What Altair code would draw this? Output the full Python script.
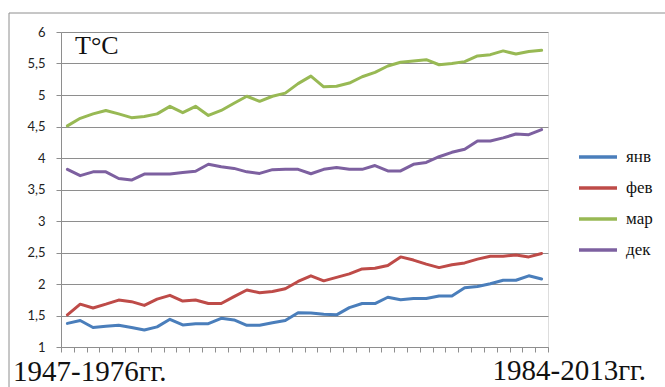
import altair as alt
import pandas as pd

# 30-year moving windows: 1947-1976 ... 1984-2013 (start years)
start_years = list(range(1947, 1985))

jan = [1.375, 1.42, 1.31, 1.33, 1.345, 1.31, 1.27, 1.32, 1.44, 1.35,
       1.37, 1.37, 1.455, 1.43, 1.345, 1.345, 1.385, 1.42, 1.545, 1.54,
       1.52, 1.51, 1.625, 1.69, 1.69, 1.79, 1.75, 1.77, 1.77, 1.81,
       1.81, 1.94, 1.96, 2.005, 2.06, 2.06, 2.13, 2.08]
feb = [1.51, 1.68, 1.62, 1.68, 1.745, 1.72, 1.66, 1.76, 1.82, 1.73,
       1.745, 1.69, 1.69, 1.80, 1.905, 1.86, 1.88, 1.925, 2.04, 2.13,
       2.05, 2.105, 2.16, 2.24, 2.25, 2.295, 2.43, 2.38, 2.315, 2.26,
       2.305, 2.335, 2.395, 2.44, 2.44, 2.46, 2.43, 2.485]
mar = [4.51, 4.63, 4.70, 4.755, 4.70, 4.64, 4.66, 4.70, 4.82, 4.72,
       4.82, 4.675, 4.755, 4.87, 4.98, 4.90, 4.98, 5.03, 5.18, 5.30,
       5.13, 5.14, 5.19, 5.29, 5.36, 5.46, 5.52, 5.54, 5.56, 5.48,
       5.50, 5.53, 5.62, 5.64, 5.70, 5.65, 5.69, 5.71]
dec = [3.82, 3.72, 3.78, 3.78, 3.675, 3.65, 3.745, 3.745, 3.745, 3.77,
       3.79, 3.90, 3.86, 3.835, 3.78, 3.755, 3.815, 3.82, 3.82, 3.75,
       3.82, 3.85, 3.82, 3.82, 3.88, 3.795, 3.795, 3.90, 3.93, 4.02,
       4.09, 4.14, 4.27, 4.27, 4.32, 4.38, 4.37, 4.45]

series_names = ["янв", "фев", "мар", "дек"]
series_colors = ["#4a7ebb", "#be4b48", "#98b954", "#7d60a0"]
y_ticks = [1, 1.5, 2, 2.5, 3, 3.5, 4, 4.5, 5, 5.5, 6]

rows = []
for name, values in zip(series_names, [jan, feb, mar, dec]):
    for yr, v in zip(start_years, values):
        rows.append({"start": yr, "t": v, "month": name})
df = pd.DataFrame(rows)

W, H = 487, 315
GRID = "#8e8e8e"
SERIF = "Liberation Serif"

# category boundaries for the x ticks
x_bounds = [y - 0.5 for y in start_years] + [start_years[-1] + 0.5]

lines = alt.Chart(df).mark_line(strokeWidth=3, strokeCap="round", strokeJoin="round").encode(
    x=alt.X("start:Q",
            scale=alt.Scale(domain=[x_bounds[0], x_bounds[-1]], nice=False, zero=False),
            axis=alt.Axis(values=x_bounds, labels=False, title=None, grid=False,
                          domainColor=GRID, tickColor=GRID, tickSize=5)),
    y=alt.Y("t:Q",
            scale=alt.Scale(domain=[1, 6], nice=False, zero=False),
            axis=alt.Axis(values=y_ticks, title=None, grid=True, gridColor=GRID,
                          domainColor=GRID, tickColor=GRID, tickSize=5,
                          format="~g",
                          labelExpr="replace(datum.label, '.', ',')",
                          labelFont="Lato", labelFontSize=13, labelColor="#222",
                          labelPadding=11)),
    color=alt.Color("month:N",
                    scale=alt.Scale(domain=series_names, range=series_colors),
                    legend=alt.Legend(title=None, orient="none", legendX=516, legendY=104,
                                      symbolType="stroke", symbolSize=1444,
                                      symbolStrokeWidth=3.5, labelFont=SERIF,
                                      labelFontSize=17, labelColor="#111",
                                      labelOffset=7, rowPadding=2)),
)

one = pd.DataFrame({"k": [0]})

frame_left = alt.Chart(one).mark_rule(color=GRID, strokeWidth=1).encode(
    x=alt.value(-52), y=alt.value(-19), y2=alt.value(400))
frame_top = alt.Chart(one).mark_rule(color=GRID, strokeWidth=1).encode(
    x=alt.value(-52), x2=alt.value(700), y=alt.value(-19))

unit = alt.Chart(one).mark_text(font=SERIF, fontSize=26, align="left",
                                baseline="alphabetic", color="#111").encode(
    x=alt.value(14), y=alt.value(22), text=alt.value("T°C"))
left_lbl = alt.Chart(one).mark_text(font=SERIF, fontSize=29, align="left",
                                    baseline="alphabetic", color="#111").encode(
    x=alt.value(-48), y=alt.value(349), text=alt.value("1947-1976гг."))
right_lbl = alt.Chart(one).mark_text(font=SERIF, fontSize=29, align="right",
                                     baseline="alphabetic", color="#111").encode(
    x=alt.value(585), y=alt.value(348), text=alt.value("1984-2013гг."))

chart = alt.layer(frame_left, frame_top, lines, unit, left_lbl, right_lbl).properties(
    width=W, height=H,
    autosize=alt.AutoSizeParams(type="none"),
    padding={"left": 61, "top": 32, "right": 117, "bottom": 40},
).configure_view(stroke=None).configure(background="white")

chart.save("out.html", embed_options={"renderer": "svg", "actions": False})
